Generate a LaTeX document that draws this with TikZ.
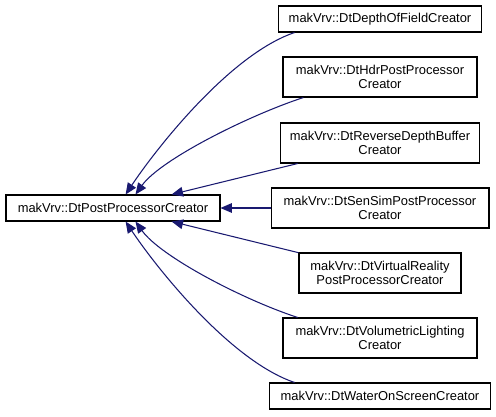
\documentclass[tikz,border=0pt]{standalone}
\usepackage{fontspec}
\setmainfont{Liberation Sans}
\usetikzlibrary{arrows.meta}
\definecolor{edgeblue}{RGB}{25,25,112}
\tikzset{
  classbox/.style={draw=black, line width=0.6pt, fill=white, align=center, inner sep=0pt,
    font=\fontsize{7.35}{8}\selectfont},
  onerow/.style={classbox, minimum height=0.52cm},
  tworow/.style={classbox, minimum height=0.8cm},
  inherit/.style={draw=edgeblue, line width=0.6pt, -{Triangle[length=6.5pt,width=5.5pt]}}
}
\begin{document}
\begin{tikzpicture}[x=0.02cm, y=-0.02cm]
            %\draw[lightgray] (0, 0) grid (496, 416);
            \useasboundingbox (0, 0) rectangle (496, 416);
            
            \node[onerow, minimum width=4.28cm] (base) at (113, 208) {makVrv::DtPostProcessorCreator};
            
            \node[onerow, minimum width=4.06cm] (dof) at (380, 19) {makVrv::DtDepthOfFieldCreator};
            \node[tworow, minimum width=3.88cm] (hdr) at (380, 77) {makVrv::DtHdrPostProcessor\\Creator};
            \node[tworow, minimum width=3.98cm] (revdepth) at (380, 143) {makVrv::DtReverseDepthBuffer\\Creator};
            \node[tworow, minimum width=4.36cm] (sensim) at (380, 208) {makVrv::DtSenSimPostProcessor\\Creator};
            \node[tworow, minimum width=3.24cm] (vr) at (380, 273) {makVrv::DtVirtualReality\\PostProcessorCreator};
            \node[tworow, minimum width=3.88cm] (vol) at (380, 338) {makVrv::DtVolumetricLighting\\Creator};
            \node[onerow, minimum width=4.42cm] (water) at (380, 396) {makVrv::DtWaterOnScreenCreator};
            
            \draw[inherit] (dof.189) .. controls +(-65, 22) and +(30, -45) .. (base.47);
            \draw[inherit] (hdr.195) .. controls +(-55, 18) and +(25, -35) .. (base.31);
            \draw[inherit] (revdepth.194) -- (base.13);
            \draw[inherit] (sensim.west) -- (base.east);
            \draw[inherit] (vr.166) -- (base.-13);
            \draw[inherit] (vol.166) .. controls +(-55, -18) and +(25, 35) .. (base.-31);
            \draw[inherit] (water.171) .. controls +(-65, -22) and +(30, 45) .. (base.-47);
        \end{tikzpicture}
\end{document}
